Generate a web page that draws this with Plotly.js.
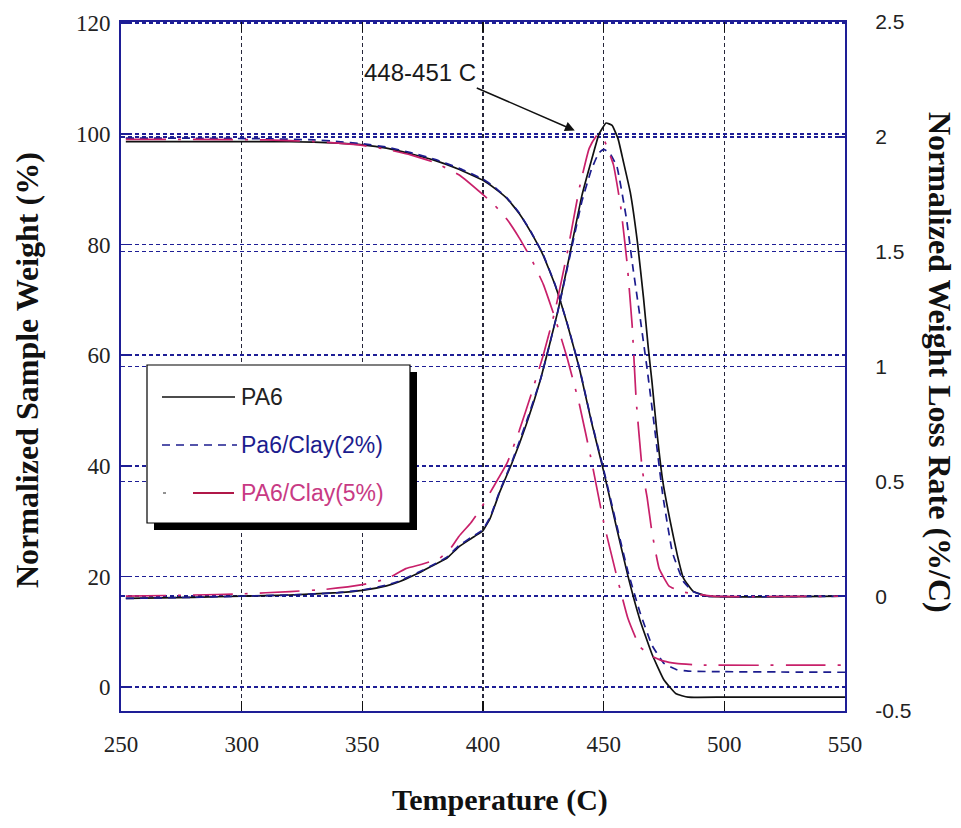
<!DOCTYPE html>
<html>
<head>
<meta charset="utf-8">
<script src="https://cdn.plot.ly/plotly-3.0.1.min.js"></script>
<style>
  html, body { margin: 0; padding: 0; background: #ffffff; }
  #chart { width: 961px; height: 828px; }
</style>
</head>
<body>
<div id="chart"></div>
<script>
// ---------- Data ----------
const seriesNames = ['PA6', 'Pa6/Clay(2%)', 'PA6/Clay(5%)'];

// Normalized sample weight (%) vs temperature (C) -- left axis
const pa6WeightTemp = [252, 280, 310, 330, 340, 350, 360, 370, 380, 390, 400, 405, 410, 415, 420, 425, 430, 435, 440, 445, 450, 455, 460, 465, 470, 475, 480, 485, 500, 550];
const pa6Weight     = [98.6, 98.6, 98.6, 98.5, 98.3, 98.0, 97.4, 96.4, 95.2, 93.6, 91.6, 90.1, 88.3, 85.6, 82.1, 78.0, 72.5, 65.5, 57.5, 47.8, 39.0, 29.5, 20.2, 12.2, 6.0, 1.3, -1.2, -1.8, -1.8, -1.8];

const clay2WeightTemp = [252, 280, 310, 330, 340, 350, 360, 370, 380, 390, 400, 405, 410, 415, 420, 425, 430, 435, 440, 445, 450, 455, 460, 465, 470, 475, 480, 485, 500, 550];
const clay2Weight     = [99.2, 99.2, 99.1, 98.9, 98.6, 98.2, 97.6, 96.6, 95.4, 93.8, 91.8, 90.3, 88.4, 85.7, 82.2, 78.1, 72.6, 65.6, 57.6, 48.0, 39.3, 30.0, 21.0, 13.6, 7.6, 4.3, 3.2, 2.9, 2.8, 2.7];

const clay5WeightTemp = [252, 280, 310, 330, 340, 350, 360, 370, 380, 390, 400, 405, 410, 415, 420, 425, 430, 435, 440, 445, 450, 455, 460, 465, 470, 475, 480, 490, 550];
const clay5Weight     = [99.0, 99.0, 98.9, 98.6, 98.3, 97.9, 97.2, 96.2, 94.8, 92.6, 89.0, 87.0, 84.5, 81.2, 77.4, 72.8, 66.5, 59.3, 51.0, 40.8, 29.8, 20.8, 12.5, 7.3, 5.6, 4.7, 4.3, 4.0, 4.0];

// Normalized weight loss rate (%/C) vs temperature (C) -- right axis
const pa6RateTemp = [252, 280, 300, 320, 340, 350, 360, 365, 370, 375, 380, 385, 390, 395, 398, 400, 403, 407, 412, 418, 424, 431, 436, 441, 445, 448, 451, 453.5, 456, 458, 461, 464, 466.5, 468.5, 470, 472, 474.5, 477.5, 480.5, 483, 487, 493, 550];
const pa6Rate     = [-0.01, -0.005, 0.0, 0.005, 0.015, 0.025, 0.045, 0.062, 0.085, 0.11, 0.138, 0.165, 0.215, 0.25, 0.27, 0.285, 0.34, 0.455, 0.58, 0.75, 0.95, 1.24, 1.49, 1.745, 1.9, 2.01, 2.06, 2.05, 1.99, 1.9, 1.76, 1.54, 1.3, 1.08, 0.935, 0.72, 0.5, 0.33, 0.18, 0.08, 0.022, 0.0, 0.0];

const clay2RateTemp = [252, 280, 300, 320, 340, 350, 360, 365, 370, 375, 380, 385, 390, 395, 398, 400, 403, 407, 412, 418, 424, 431, 436, 441, 445, 448, 450, 452.5, 455.5, 459.5, 462, 465, 468, 471, 474.5, 478.5, 483, 487, 493, 550];
const clay2Rate     = [-0.01, -0.005, 0.0, 0.005, 0.015, 0.027, 0.048, 0.065, 0.088, 0.113, 0.14, 0.17, 0.22, 0.255, 0.275, 0.29, 0.345, 0.46, 0.585, 0.76, 0.95, 1.24, 1.48, 1.72, 1.86, 1.93, 1.945, 1.93, 1.87, 1.64, 1.44, 1.22, 0.99, 0.74, 0.44, 0.19, 0.065, 0.02, 0.0, 0.0];

const clay5RateTemp = [252, 280, 300, 320, 335, 350, 360, 368, 375, 382, 386, 390, 395, 399, 404, 410, 415, 420, 425, 430, 435, 440, 444, 447.5, 450, 454, 457, 459.7, 461.8, 463.5, 466, 468, 470, 473, 477, 482, 495, 550];
const clay5Rate     = [0.0, 0.005, 0.01, 0.02, 0.03, 0.05, 0.075, 0.12, 0.14, 0.165, 0.2, 0.26, 0.32, 0.38, 0.47, 0.58, 0.72, 0.88, 1.05, 1.25, 1.5, 1.78, 1.95, 2.01, 1.99, 1.88, 1.7, 1.45, 1.18, 0.85, 0.55, 0.43, 0.28, 0.12, 0.045, 0.02, 0.0, 0.0];

// Tick values
const xTicks  = [250, 300, 350, 400, 450, 500, 550];
const yTicks  = [0, 20, 40, 60, 80, 100, 120];
const y2Ticks = [-0.5, 0, 0.5, 1, 1.5, 2, 2.5];
const y2TickText = ['-0.5', '0', '0.5', '1', '1.5', '2', '2.5'];

const peakLabel = '448-451 C';

// ---------- Styles ----------
const colBlack = '#111111';
const colBlue  = '#1c1c8e';
const colMag   = '#c8206a';
const navy     = '#1e1e96';
const dashBlue = '8px,6px';
const dashMag  = '40px,12px,3px,12px';
const serif = '"Liberation Serif", "Times New Roman", serif';
const sans  = '"Liberation Sans", Arial, sans-serif';

// plot area in pixels
const PL = 121, PR = 845, PT = 22, PB = 711;
const W = 961, H = 828;
const px = v => (v - PL) / (PR - PL);
const py = v => (PB - v) / (PB - PT);

function tr(x, y, axis, color, dash, width) {
  return {
    x: x, y: y, yaxis: axis, type: 'scatter', mode: 'lines',
    line: { color: color, dash: dash, width: width, shape: 'spline', smoothing: 0.35 },
    showlegend: false, hoverinfo: 'skip'
  };
}

const traces = [
  tr(pa6WeightTemp, pa6Weight, 'y', colBlack, 'solid', 1.7),
  tr(pa6RateTemp, pa6Rate, 'y2', colBlack, 'solid', 1.7),
  tr(clay2WeightTemp, clay2Weight, 'y', colBlue, dashBlue, 1.7),
  tr(clay2RateTemp, clay2Rate, 'y2', colBlue, dashBlue, 1.7),
  tr(clay5WeightTemp, clay5Weight, 'y', colMag, dashMag, 1.7),
  tr(clay5RateTemp, clay5Rate, 'y2', colMag, dashMag, 1.7)
];
traces[0].name = seriesNames[0];
traces[2].name = seriesNames[1];
traces[4].name = seriesNames[2];

// ---------- Legend (drawn box with drop shadow) ----------
const legTop = 365, legBot = 523, legL = 147, legR = 410, shadow = 7;
const legRows = [397, 445, 493];
const legTextColors = ['#222222', colBlue, '#c83a84'];

const shapes = [
  { type: 'rect', xref: 'paper', yref: 'paper', layer: 'above',
    x0: px(legL + shadow), x1: px(legR + shadow), y0: py(legBot + shadow), y1: py(legTop + shadow),
    fillcolor: '#000000', line: { width: 0 } },
  { type: 'rect', xref: 'paper', yref: 'paper', layer: 'above',
    x0: px(legL), x1: px(legR), y0: py(legBot), y1: py(legTop),
    fillcolor: '#ffffff', line: { color: '#000000', width: 1.2 } },
  { type: 'line', xref: 'paper', yref: 'paper', layer: 'above',
    x0: px(162), x1: px(235), y0: py(legRows[0]), y1: py(legRows[0]),
    line: { color: colBlack, width: 1.6 } },
  { type: 'line', xref: 'paper', yref: 'paper', layer: 'above',
    x0: px(162), x1: px(237), y0: py(legRows[1]), y1: py(legRows[1]),
    line: { color: colBlue, width: 1.6, dash: dashBlue } },
  { type: 'line', xref: 'paper', yref: 'paper', layer: 'above',
    x0: px(163), x1: px(166), y0: py(legRows[2]), y1: py(legRows[2]),
    line: { color: '#777777', width: 1.6 } },
  { type: 'line', xref: 'paper', yref: 'paper', layer: 'above',
    x0: px(193), x1: px(234), y0: py(legRows[2]), y1: py(legRows[2]),
    line: { color: '#b01848', width: 1.8 } }
];

const annotations = [];
seriesNames.forEach((n, i) => {
  annotations.push({
    xref: 'paper', yref: 'paper', x: px(239), y: py(legRows[i]),
    xanchor: 'left', yanchor: 'middle', showarrow: false, text: n,
    font: { family: sans, size: 23, color: legTextColors[i] }
  });
});

// peak label + arrow
annotations.push({
  xref: 'x', yref: 'y', x: 374, y: 111, showarrow: false, text: peakLabel,
  xanchor: 'center', yanchor: 'middle',
  font: { family: sans, size: 24, color: '#1a1a1a' }
});
annotations.push({
  xref: 'x', yref: 'y', x: 438.0, y: 100.6, axref: 'x', ayref: 'y', ax: 396.8, ay: 108.4,
  text: '', showarrow: true, arrowhead: 2, arrowsize: 1.3, arrowwidth: 1.5, arrowcolor: '#111111',
  standoff: 0, startstandoff: 0
});

// axis titles
const titleFontX = { family: serif, size: 30, color: '#111111', weight: 'bold' };
const titleFontY = { family: serif, size: 32, color: '#111111', weight: 'bold' };
annotations.push({
  xref: 'paper', yref: 'paper', x: px(500), y: py(800), showarrow: false,
  text: 'Temperature (C)', xanchor: 'center', yanchor: 'middle', font: titleFontX
});
annotations.push({
  xref: 'paper', yref: 'paper', x: px(27), y: py(370), showarrow: false, textangle: -90,
  text: 'Normalized Sample Weight (%)', xanchor: 'center', yanchor: 'middle', font: titleFontY
});
annotations.push({
  xref: 'paper', yref: 'paper', x: px(940), y: py(362), showarrow: false, textangle: 90,
  text: 'Normalized Weight Loss Rate (%/C)', xanchor: 'center', yanchor: 'middle', font: titleFontY
});

const gridDash = '4px,3px';

const layout = {
  width: W, height: H,
  font: { family: serif, size: 22, color: '#222222' },
  margin: { l: PL, r: W - PR, t: PT, b: H - PB, pad: 0 },
  paper_bgcolor: '#ffffff', plot_bgcolor: '#ffffff',
  showlegend: false,
  xaxis: {
    range: [250, 550], tickvals: xTicks, ticks: 'inside', ticklen: 10, tickwidth: 1.5, tickcolor: '#111111',
    showline: true, linecolor: navy, linewidth: 2, mirror: 'ticks',
    showgrid: true, gridcolor: '#26263a', gridwidth: 1.5, griddash: gridDash, zeroline: false,
    tickfont: { family: serif, size: 23, color: '#222222' },
    ticklabelstandoff: 11, fixedrange: true
  },
  yaxis: {
    range: [-4.3, 120.2], tickvals: yTicks, ticks: 'inside', ticklen: 7, tickwidth: 1.5, tickcolor: navy,
    showline: true, linecolor: navy, linewidth: 2, mirror: false,
    showgrid: true, gridcolor: navy, gridwidth: 1.5, griddash: gridDash, zeroline: false,
    tickfont: { family: serif, size: 23, color: '#222222' },
    ticklabelstandoff: 4, fixedrange: true
  },
  yaxis2: {
    range: [-0.5, 2.5], tickvals: y2Ticks, ticktext: y2TickText, overlaying: 'y', side: 'right',
    ticks: 'inside', ticklen: 7, tickwidth: 1.5, tickcolor: navy,
    showline: true, linecolor: navy, linewidth: 2,
    showgrid: true, gridcolor: navy, gridwidth: 1.5, griddash: gridDash, zeroline: false,
    tickfont: { family: sans, size: 21, color: '#222222' },
    ticklabelstandoff: 24, fixedrange: true
  },
  shapes: shapes,
  annotations: annotations
};

Plotly.newPlot('chart', traces, layout, { displayModeBar: false, staticPlot: true });
</script>
</body>
</html>
